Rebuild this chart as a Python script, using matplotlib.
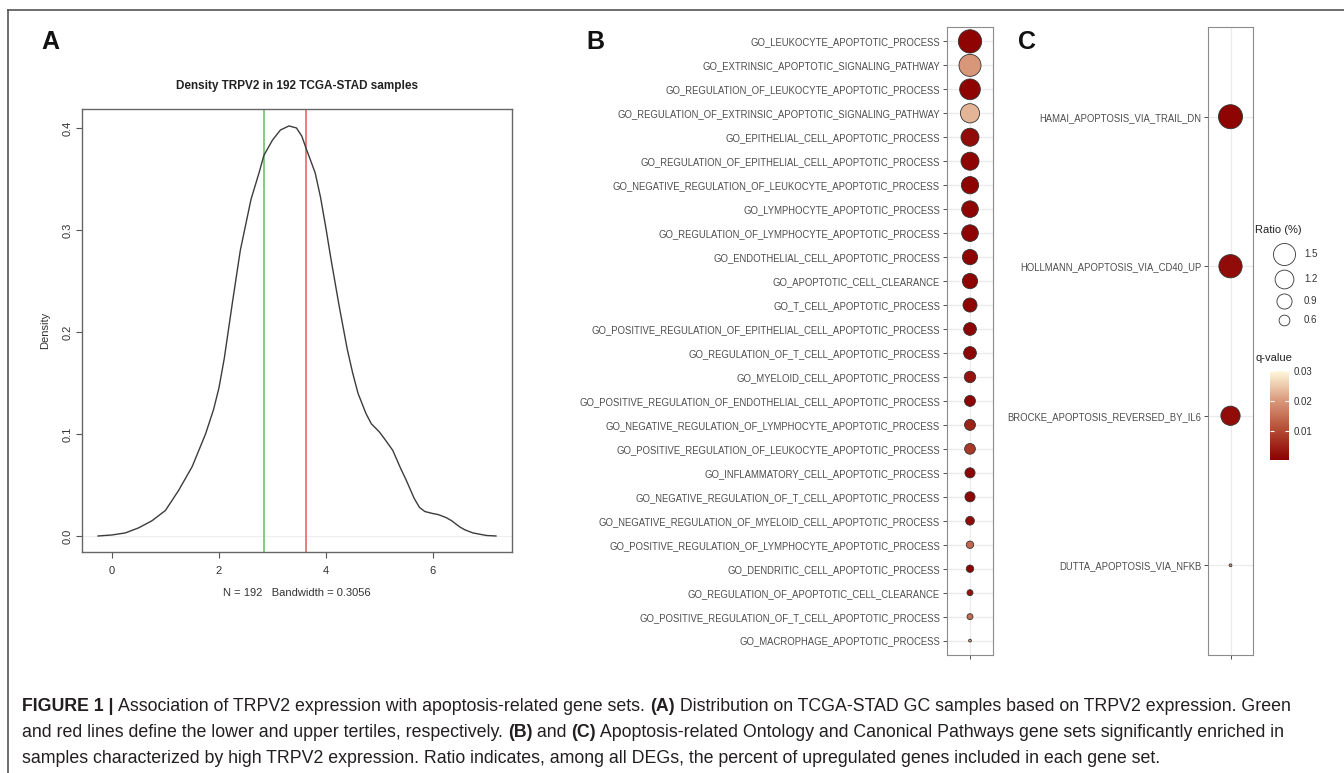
import matplotlib
matplotlib.use("Agg")
import matplotlib.pyplot as plt
from matplotlib.colors import LinearSegmentedColormap, Normalize
from matplotlib.cm import ScalarMappable
import numpy as np

plt.rcParams['font.family'] = ['Liberation Sans', 'DejaVu Sans']

# ---------------- data ----------------
dens_x = [-0.26, 0.0, 0.25, 0.5, 0.75, 1.0, 1.25, 1.5, 1.75, 1.9, 2.0, 2.1, 2.25, 2.4,
          2.5, 2.6, 2.75, 2.84, 3.0, 3.15, 3.31, 3.45, 3.55, 3.63, 3.8, 3.9, 4.0, 4.1,
          4.25, 4.4, 4.5, 4.6, 4.75, 4.85, 5.0, 5.1, 5.25, 5.4, 5.5, 5.65, 5.75, 5.85,
          6.0, 6.1, 6.25, 6.35, 6.5, 6.6, 6.75, 7.0, 7.18]
dens_y = [0.0, 0.001, 0.003, 0.008, 0.015, 0.025, 0.045, 0.068, 0.100, 0.124, 0.145,
          0.174, 0.228, 0.280, 0.305, 0.330, 0.356, 0.373, 0.388, 0.398, 0.402, 0.400,
          0.392, 0.380, 0.356, 0.332, 0.302, 0.270, 0.225, 0.183, 0.160, 0.140, 0.120,
          0.110, 0.102, 0.095, 0.084, 0.066, 0.055, 0.037, 0.028, 0.024, 0.022, 0.021,
          0.018, 0.015, 0.009, 0.006, 0.003, 0.0005, 0.0]
lower_tertile = 2.84
upper_tertile = 3.63
x_ticks_A = [0, 2, 4, 6]
y_ticks_A = [0.0, 0.1, 0.2, 0.3, 0.4]

go_terms = [
    "GO_LEUKOCYTE_APOPTOTIC_PROCESS",
    "GO_EXTRINSIC_APOPTOTIC_SIGNALING_PATHWAY",
    "GO_REGULATION_OF_LEUKOCYTE_APOPTOTIC_PROCESS",
    "GO_REGULATION_OF_EXTRINSIC_APOPTOTIC_SIGNALING_PATHWAY",
    "GO_EPITHELIAL_CELL_APOPTOTIC_PROCESS",
    "GO_REGULATION_OF_EPITHELIAL_CELL_APOPTOTIC_PROCESS",
    "GO_NEGATIVE_REGULATION_OF_LEUKOCYTE_APOPTOTIC_PROCESS",
    "GO_LYMPHOCYTE_APOPTOTIC_PROCESS",
    "GO_REGULATION_OF_LYMPHOCYTE_APOPTOTIC_PROCESS",
    "GO_ENDOTHELIAL_CELL_APOPTOTIC_PROCESS",
    "GO_APOPTOTIC_CELL_CLEARANCE",
    "GO_T_CELL_APOPTOTIC_PROCESS",
    "GO_POSITIVE_REGULATION_OF_EPITHELIAL_CELL_APOPTOTIC_PROCESS",
    "GO_REGULATION_OF_T_CELL_APOPTOTIC_PROCESS",
    "GO_MYELOID_CELL_APOPTOTIC_PROCESS",
    "GO_POSITIVE_REGULATION_OF_ENDOTHELIAL_CELL_APOPTOTIC_PROCESS",
    "GO_NEGATIVE_REGULATION_OF_LYMPHOCYTE_APOPTOTIC_PROCESS",
    "GO_POSITIVE_REGULATION_OF_LEUKOCYTE_APOPTOTIC_PROCESS",
    "GO_INFLAMMATORY_CELL_APOPTOTIC_PROCESS",
    "GO_NEGATIVE_REGULATION_OF_T_CELL_APOPTOTIC_PROCESS",
    "GO_NEGATIVE_REGULATION_OF_MYELOID_CELL_APOPTOTIC_PROCESS",
    "GO_POSITIVE_REGULATION_OF_LYMPHOCYTE_APOPTOTIC_PROCESS",
    "GO_DENDRITIC_CELL_APOPTOTIC_PROCESS",
    "GO_REGULATION_OF_APOPTOTIC_CELL_CLEARANCE",
    "GO_POSITIVE_REGULATION_OF_T_CELL_APOPTOTIC_PROCESS",
    "GO_MACROPHAGE_APOPTOTIC_PROCESS",
]
go_ratio = [1.62, 1.50, 1.37, 1.24, 1.13, 1.13, 1.07, 1.02, 1.02, 0.91, 0.91, 0.82, 0.73,
            0.73, 0.64, 0.61, 0.61, 0.60, 0.56, 0.56, 0.48, 0.41, 0.41, 0.34, 0.34, 0.21]
go_q = [0.001, 0.020, 0.001, 0.023, 0.002, 0.001, 0.001, 0.001, 0.001, 0.001, 0.001,
        0.001, 0.001, 0.001, 0.003, 0.001, 0.005, 0.008, 0.001, 0.001, 0.002, 0.014,
        0.001, 0.003, 0.015, 0.020]

cp_terms = [
    "HAMAI_APOPTOSIS_VIA_TRAIL_DN",
    "HOLLMANN_APOPTOSIS_VIA_CD40_UP",
    "BROCKE_APOPTOSIS_REVERSED_BY_IL6",
    "DUTTA_APOPTOSIS_VIA_NFKB",
]
cp_ratio = [1.70, 1.62, 1.24, 0.21]
cp_q = [0.001, 0.002, 0.002, 0.020]

legend_ratios = [1.5, 1.2, 0.9, 0.6]
cbar_ticks = [0.01, 0.02, 0.03]

caption_lines = [
    [("FIGURE 1 | ", True), ("Association of TRPV2 expression with apoptosis-related gene sets. ", False),
     ("(A)", True), (" Distribution on TCGA-STAD GC samples based on TRPV2 expression. Green", False)],
    [("and red lines define the lower and upper tertiles, respectively. ", False), ("(B)", True),
     (" and ", False), ("(C)", True),
     (" Apoptosis-related Ontology and Canonical Pathways gene sets significantly enriched in", False)],
    [("samples characterized by high TRPV2 expression. Ratio indicates, among all DEGs, the percent of upregulated genes included in each gene set.", False)],
]

# ---------------- figure ----------------
W, H = 1344, 773
fig = plt.figure(figsize=(W / 100, H / 100), dpi=100)


def box(x0, y0, x1, y1):
    return [x0 / W, 1 - y1 / H, (x1 - x0) / W, (y1 - y0) / H]


ov = fig.add_axes([0, 0, 1, 1])
ov.set_xlim(0, W)
ov.set_ylim(H, 0)
ov.axis('off')

# outer frame
ov.plot([8, 8], [10, H], color='#555555', lw=1.2)
ov.plot([8, W], [10, 10], color='#555555', lw=1.2)

# panel letters
for lab, x in [("A", 50), ("B", 595), ("C", 1027)]:
    ov.text(x, 42, lab, fontsize=18, fontweight='bold', ha='center', va='center', color='#111111')

# ---------------- Panel A ----------------
axA = fig.add_axes(box(82, 109, 512, 552))
axA.plot(dens_x, dens_y, color='#3c3c3c', lw=1.0, zorder=3, solid_joinstyle='round')
axA.axvline(lower_tertile, color='#6cc46c', lw=1.2, zorder=2)
axA.axvline(upper_tertile, color='#e06a6a', lw=1.2, zorder=2)
axA.axhline(0, color='#eeeeee', lw=0.8, zorder=1)
axA.set_xlim(-0.56, 7.48)
axA.set_ylim(-0.0157, 0.4186)
axA.set_xticks(x_ticks_A)
axA.set_xticklabels([str(v) for v in x_ticks_A])
axA.set_yticks(y_ticks_A)
axA.set_yticklabels([f"{v:.1f}" for v in y_ticks_A], rotation=90, va='center')
axA.tick_params(direction='out', length=4, width=0.8, color='#555555', labelsize=8,
                labelcolor='#333333')
axA.tick_params(axis='x', pad=6)
axA.tick_params(axis='y', pad=3)
for sp in axA.spines.values():
    sp.set_color('#666666')
    sp.set_linewidth(1.0)
ov.text(297, 86, "Density TRPV2 in 192 TCGA-STAD samples", fontsize=8.5, fontweight='bold',
        ha='center', va='center', color='#222222')
ov.text(297, 593, "N = 192   Bandwidth = 0.3056", fontsize=8, ha='center', va='center', color='#333333')
ov.text(45, 330, "Density", fontsize=8, rotation=90, ha='center', va='center', color='#333333')

# ---------------- color / size scales ----------------
cmap = LinearSegmentedColormap.from_list(
    'q', [(0.0, '#8B0000'), (0.33, '#B24A33'), (0.67, '#D9997B'), (1.0, '#FFF8DC')])
norm = Normalize(vmin=0.0005, vmax=0.03)


def sizes(r):
    d_px = 25.1 * np.sqrt(np.asarray(r)) - 8.7
    return (d_px * 0.72) ** 2


def dotpanel(rect, terms, ratio, q):
    ax = fig.add_axes(rect)
    n = len(terms)
    rows = np.arange(n)
    ax.scatter(np.ones(n), rows, s=sizes(ratio), c=q, cmap=cmap, norm=norm,
               edgecolors='#333333', linewidths=0.6, zorder=3)
    ax.set_xlim(0.4, 1.6)
    ax.set_ylim(n - 1 + 0.6, -0.6)
    ax.set_xticks([1])
    ax.set_xticklabels([''])
    ax.set_yticks(rows)
    ax.set_yticklabels(terms, fontsize=6.85, color='#4d4d4d')
    ax.grid(True, color='#ebebeb', lw=0.9)
    ax.set_axisbelow(True)
    ax.tick_params(length=3, width=0.6, color='#333333', pad=2)
    for sp in ax.spines.values():
        sp.set_color('#8c8c8c')
        sp.set_linewidth(0.8)
    return ax


dotpanel(box(947, 27, 993, 655), go_terms, go_ratio, go_q)
dotpanel(box(1208, 27, 1253, 655), cp_terms, cp_ratio, cp_q)

# ---------------- legends ----------------
ov.text(1255, 230, "Ratio (%)", fontsize=8, ha='left', va='center', color='#222222')
for r, y in zip(legend_ratios, [254, 279, 301, 320]):
    ov.scatter([1284], [y], s=sizes([r]), facecolors='white', edgecolors='#333333', linewidths=0.6)
    ov.text(1304, y, f"{r}", fontsize=7, ha='left', va='center', color='#333333')
ov.text(1256, 358, "q-value", fontsize=8, ha='left', va='center', color='#222222')

cax = fig.add_axes(box(1270, 371, 1289, 460))
cb = fig.colorbar(ScalarMappable(norm=norm, cmap=cmap), cax=cax, ticks=cbar_ticks)
cb.outline.set_visible(False)
cb.ax.set_yticklabels([f"{t:.2f}" for t in cbar_ticks])
cb.ax.tick_params(length=3, width=0.8, color='white', direction='in', labelsize=7,
                  labelcolor='#333333', pad=3, left=True)

# ---------------- caption ----------------
renderer = fig.canvas.get_renderer()


def draw_caption(fs, draw=True):
    widths = []
    arts = []
    for i, segs in enumerate(caption_lines):
        x = 22
        y = 711 + i * 26
        for txt, bold in segs:
            t = ov.text(x, y, txt, fontsize=fs, fontweight='bold' if bold else 'normal',
                        ha='left', va='baseline', color='#231f20')
            bb = t.get_window_extent(renderer)
            x += bb.width
            arts.append(t)
        widths.append(x - 22)
    if not draw:
        for a in arts:
            a.remove()
    return widths


w = draw_caption(12, draw=False)
fs = 12 * 1268 / w[1]
draw_caption(fs)

fig.savefig("out.png", dpi=100)
